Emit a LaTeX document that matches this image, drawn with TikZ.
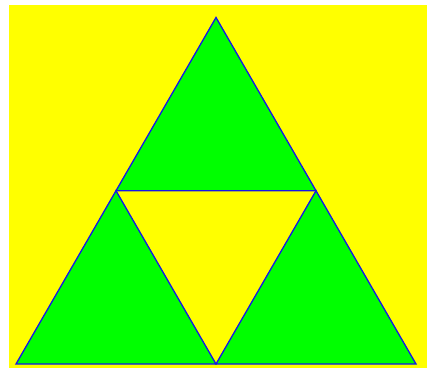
\documentclass[tikz,border=0pt]{standalone}
\definecolor{bgyellow}{RGB}{255,255,0}
\definecolor{trigreen}{RGB}{0,255,0}
\definecolor{edgeblue}{RGB}{20,20,235}
\begin{document}
\begin{tikzpicture}[x=1pt,y=-1pt,
  tri/.style={fill=trigreen,draw=edgeblue,line width=1.3pt,line join=miter}]
\useasboundingbox (0,0) rectangle (427,369);
\fill[white] (0,0) rectangle (427,369);
\fill[bgyellow] (9,5) rectangle (427,368);
\coordinate (A) at (216,17.5);
\coordinate (L) at (16,364);
\coordinate (R) at (416,364);
\coordinate (ML) at (116,190.75);
\coordinate (MR) at (316,190.75);
\coordinate (MB) at (216,364);
\draw[tri] (A) -- (MR) -- (ML) -- cycle;
\draw[tri] (ML) -- (MB) -- (L) -- cycle;
\draw[tri] (MR) -- (R) -- (MB) -- cycle;
\end{tikzpicture}
\end{document}
